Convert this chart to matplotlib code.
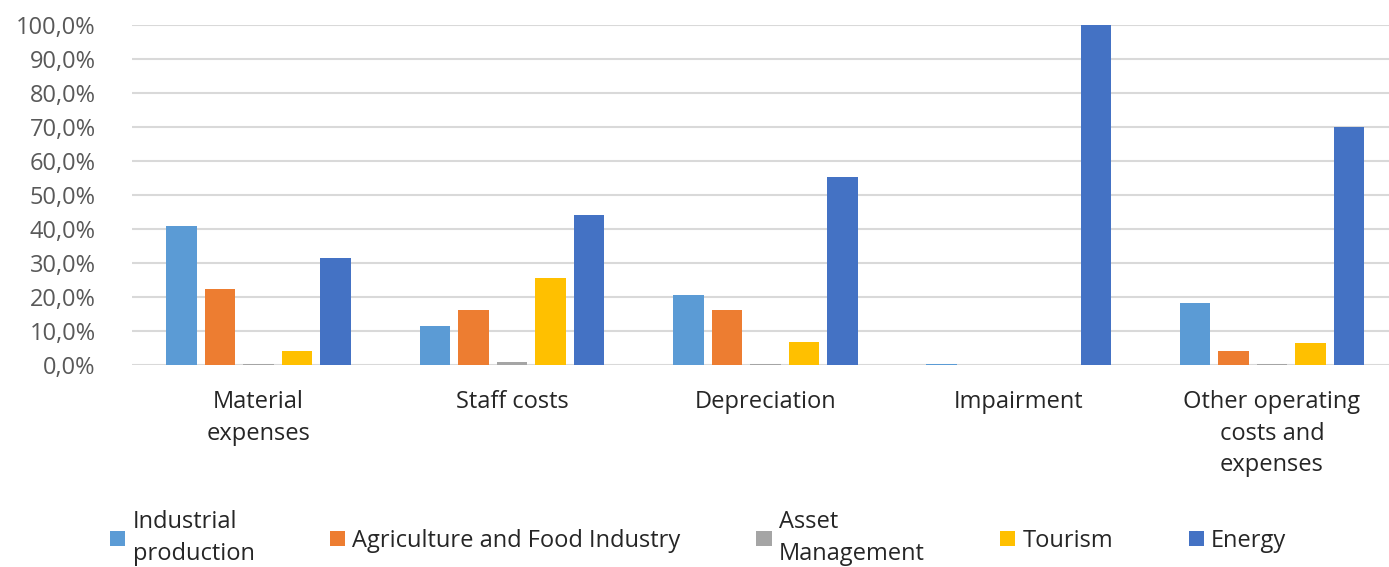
import matplotlib.pyplot as plt
import numpy as np
from matplotlib.patches import Patch
from matplotlib.ticker import FuncFormatter

plt.rcParams['font.family'] = ['Open Sans', 'DejaVu Sans']

categories = ["Material\nexpenses", "Staff costs", "Depreciation", "Impairment",
              "Other operating\ncosts and\nexpenses"]
series = ["Industrial\nproduction", "Agriculture and Food Industry", "Asset\nManagement",
          "Tourism", "Energy"]
industrial = [40.8, 11.6, 20.5, 0.3, 18.2]
agriculture = [22.5, 16.3, 16.3, 0.0, 4.1]
asset = [0.3, 0.8, 0.2, 0.0, 0.2]
tourism = [4.1, 25.7, 6.8, 0.0, 6.5]
energy = [31.4, 44.1, 55.4, 100.0, 70.0]
colors = ["#5B9BD5", "#ED7D31", "#A5A5A5", "#FFC000", "#4472C4"]

values = [industrial, agriculture, asset, tourism, energy]

fig = plt.figure(figsize=(13.89, 5.67), dpi=100)
ax = fig.add_axes([0.095, 0.356, 0.912, 0.6])

x = np.arange(len(categories))
step = 0.152
width = 0.12
for i, (vals, col) in enumerate(zip(values, colors)):
    ax.bar(x + (i - 2) * step, vals, width, color=col, linewidth=0, zorder=3)

ax.set_xlim(-0.5, len(categories) - 0.5)
ax.set_ylim(0, 100)
ax.set_yticks(np.arange(0, 101, 10))
ax.yaxis.set_major_formatter(FuncFormatter(lambda v, p: f"{v:.1f}%".replace(".", ",")))
ax.grid(axis="y", color="#d9d9d9", linewidth=1.5, zorder=0)
ax.set_xticks(x)
ax.set_xticklabels(categories, linespacing=1.42)
ax.tick_params(axis="x", length=0, labelsize=17, colors="#262626", pad=18)
ax.tick_params(axis="y", length=0, labelsize=17, colors="#595959", pad=26)
for s in ax.spines.values():
    s.set_visible(False)

handles = [Patch(facecolor=c) for c in colors]
leg = fig.legend(handles, series, loc="lower left", bbox_to_anchor=(0.064, -0.035), ncol=5,
                 frameon=False, fontsize=17, labelcolor="#262626", handlelength=0.65,
                 handleheight=0.65, handletextpad=0.3, columnspacing=3.2,
                 labelspacing=0.2)
for t in leg.get_texts():
    t.set_linespacing(1.42)

fig.savefig("out.png", dpi=100)
